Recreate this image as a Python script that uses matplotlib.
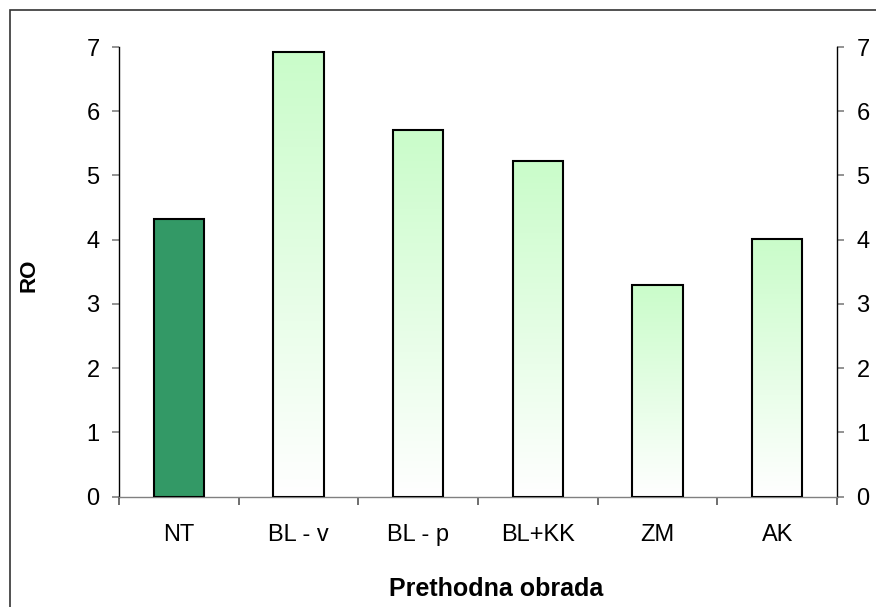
import numpy as np
import matplotlib
matplotlib.use('Agg')
import matplotlib.pyplot as plt
from matplotlib.patches import Rectangle

plt.rcParams['font.family'] = ['Liberation Sans', 'DejaVu Sans']

# podatki
categories = ['NT', 'BL - v', 'BL - p', 'BL+KK', 'ZM', 'AK']
values = [4.32, 6.92, 5.70, 5.23, 3.30, 4.01]
y_ticks = [0, 1, 2, 3, 4, 5, 6, 7]

W, H = 876, 607
fig = plt.figure(figsize=(W / 100, H / 100), dpi=100)
ax = fig.add_axes([119 / W, 1 - 496.5 / H, 718 / W, 449.5 / H])

# okvir okoli slike (desni in spodnji rob izven slike)
fig.patches.append(Rectangle((10 / W, -0.05), 1.2, 1 - 10 / H + 0.05,
                             transform=fig.transFigure, fill=False,
                             edgecolor='#333333', linewidth=1.2))

x = np.arange(len(categories))
bw = 0.42
green_top = np.array([0.79, 0.99, 0.79])
grad = np.linspace(0, 1, 256).reshape(-1, 1)
grad_img = np.ones((256, 1, 3)) * (1 - grad[..., None]) + green_top * grad[..., None]

for i, (xi, v) in enumerate(zip(x, values)):
    if i == 0:
        ax.bar(xi, v, width=bw, color='#339966', edgecolor='black',
               linewidth=1.5, zorder=3)
    else:
        ax.imshow(grad_img, extent=[xi - bw / 2, xi + bw / 2, 0, v],
                  origin='lower', aspect='auto', zorder=2,
                  interpolation='bilinear')
        ax.bar(xi, v, width=bw, fill=False, edgecolor='black',
               linewidth=1.5, zorder=3)

ax.set_aspect('auto')
ax.set_xlim(-0.5, len(categories) - 0.5)
ax.set_ylim(0, 7)

ax.spines['top'].set_visible(False)
ax.spines['left'].set_color('black')
ax.spines['right'].set_color('black')
ax.spines['bottom'].set_color('#808080')
for s in ['left', 'right', 'bottom']:
    ax.spines[s].set_linewidth(1.0)

ax.set_yticks(y_ticks)
ax.tick_params(axis='y', which='both', left=True, right=True,
               labelleft=True, labelright=True, direction='out',
               length=5, width=1.2, color='#808080', pad=9,
               labelsize=17)

ax.set_xticks(np.arange(len(categories) + 1) - 0.5, minor=False)
ax.set_xticklabels([])
ax.set_xticks(x, minor=True)
ax.set_xticklabels(categories, minor=True)
ax.tick_params(axis='x', which='major', direction='out', length=6,
               width=1.2, color='#555555')
ax.tick_params(axis='x', which='minor', length=0, pad=20, labelsize=17)

ax.set_xlabel('Prethodna obrada', fontsize=18, fontweight='bold')
ax.xaxis.set_label_coords((496 - 119) / 718, -(589 - 496.5) / 449.5)
ax.xaxis.label.set_va('center')
ax.set_ylabel('RO', fontsize=16, fontweight='bold')
ax.yaxis.set_label_coords(-(119 - 29) / 718, (496.5 - 275) / 449.5)
ax.yaxis.label.set_va('center')

fig.savefig('out.png', dpi=100)
